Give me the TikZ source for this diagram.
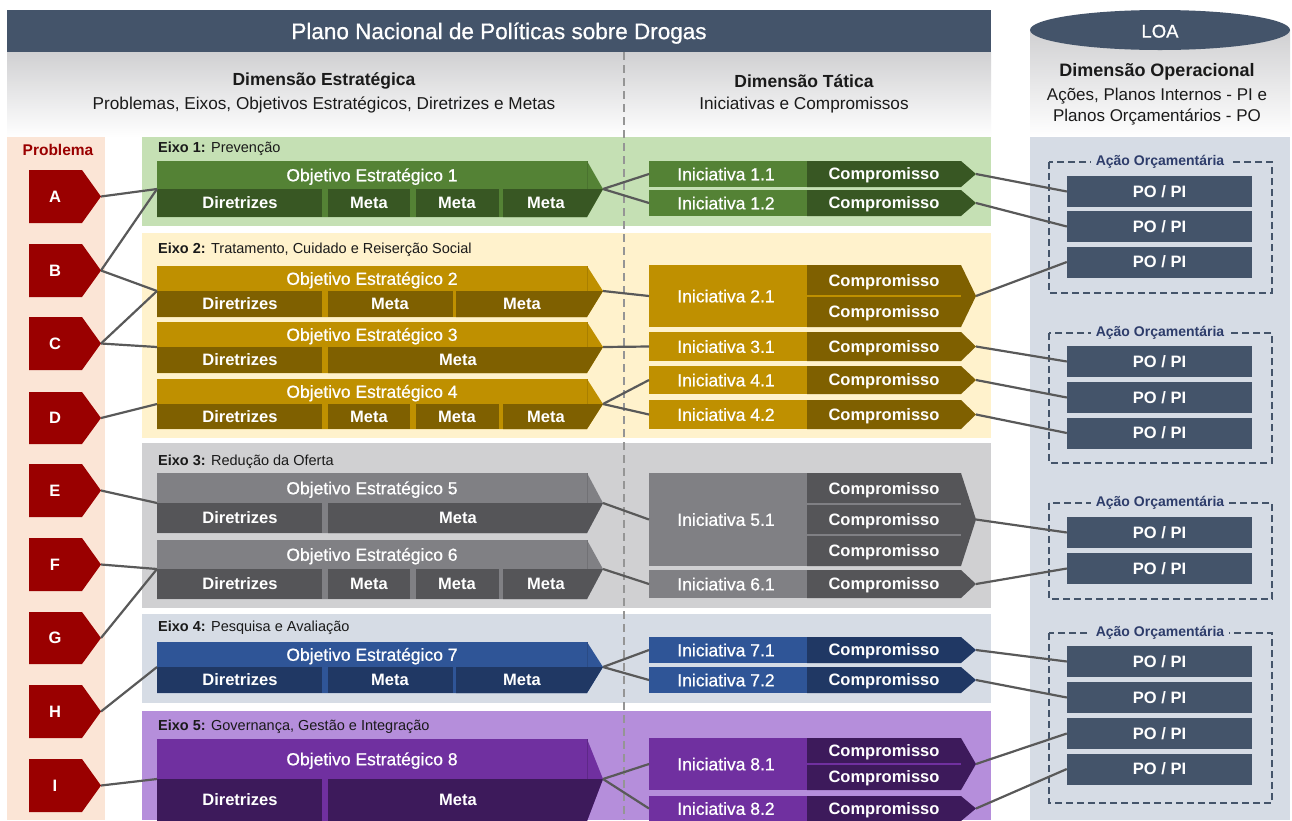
\documentclass[tikz,border=0pt]{standalone}
\usepackage{fontspec}
\setmainfont{Liberation Sans}
\newfontfamily\medfont{Liberation Sans}[FakeBold=0.7]
\usetikzlibrary{calc}
\definecolor{hdr}{HTML}{44546A}
\definecolor{poc}{HTML}{44546A}
\definecolor{loabg}{HTML}{D6DCE5}
\definecolor{probbg}{HTML}{FBE5D6}
\definecolor{probred}{HTML}{9A0000}
\definecolor{connc}{HTML}{595959}
\definecolor{txtc}{HTML}{1A1A1A}
\definecolor{acaoc}{HTML}{2E3D6B}
\definecolor{dashc}{HTML}{959595}
\definecolor{bandtop}{HTML}{D0D0D2}
\definecolor{e1bg}{HTML}{C5E0B4}
\definecolor{e2bg}{HTML}{FFF2CC}
\definecolor{e3bg}{HTML}{D0D0D2}
\definecolor{e4bg}{HTML}{D6DCE5}
\definecolor{e5bg}{HTML}{B58EDB}
\definecolor{gL}{HTML}{548235}
\definecolor{gD}{HTML}{385723}
\definecolor{yL}{HTML}{BF9000}
\definecolor{yD}{HTML}{7F6000}
\definecolor{aL}{HTML}{808084}
\definecolor{aD}{HTML}{555558}
\definecolor{bL}{HTML}{2F5597}
\definecolor{bD}{HTML}{203864}
\definecolor{pL}{HTML}{7030A0}
\definecolor{pD}{HTML}{3D1A5B}
\newcommand\fsz[1]{\fontsize{#1}{#1}\selectfont}
\tikzset{
  conn/.style={draw=connc, line width=2.2pt},
  capc/.style={text height=0.72*#1 pt, text depth=0pt},
  objtxt/.style={text=white, font=\fsz{17.5}\medfont, inner sep=0, capc=17.5},
  celltxt/.style={text=white, font=\fsz{16.5}\bfseries, inner sep=0, capc=16.5},
  initxt/.style={text=white, font=\fsz{17.5}\medfont, inner sep=0, capc=17.5},
  comptxt/.style={text=white, font=\fsz{16.5}\bfseries, inner sep=0, capc=16.5},
  pobox/.style={fill=poc, text=white, font=\fsz{16.5}\bfseries, minimum width=185pt, minimum height=31pt, inner sep=0, capc=16.5},
  probtxt/.style={text=white, font=\fsz{16.5}\bfseries, inner sep=0, capc=16.5},
  eixotxt/.style={anchor=west, font=\fsz{14.5}, text=txtc, inner sep=0},
  acaobox/.style={draw=poc, line width=2.4pt, dash pattern=on 7pt off 4pt},
  acaolbl/.style={fill=loabg, text=acaoc, font=\fsz{14}\bfseries, inner xsep=5pt, inner ysep=1pt},
  headtxt/.style={text=txtc, font=\fsz{17.5}\bfseries, inner sep=0},
  subtxt/.style={text=txtc, font=\fsz{17.2}, inner sep=0},
}
% problem box: name, top, bottom
\newcommand\probbox[3]{%
  \fill[probred] (29,#2) -- (82,#2) -- (101,{(#2+#3)/2}) -- (82,#3) -- (29,#3) -- cycle;
  \node[probtxt] (#1) at (55,{(#2+#3)/2}) {#1};
  \coordinate (#1tip) at (101,{(#2+#3)/2});
}
% objective: name, top, mid, bot, light, dark, title, number of metas
\newcommand\objbox[8]{%
  \fill[#5] (157,#2) -- (587,#2) -- (603,#3) -- (587,#4) -- (157,#4) -- cycle;
  \draw[#6!35!#5, line width=0.8pt] (587,#2) -- (587,#3);
  \node[objtxt] (#1) at (372,{(#2+#3)/2}) {#7};
  \fill[#6] (157,#3) rectangle (322,#4);
  \node[celltxt] at (240,{(#3+#4)/2}) {Diretrizes};
  \ifcase #8 \or
    \fill[#6] (328,#3) -- (603,#3) -- (587,#4) -- (328,#4) -- cycle;
    \node[celltxt] at (458,{(#3+#4)/2}) {Meta};
  \or
    \fill[#6] (328,#3) rectangle (453,#4);
    \fill[#6] (456,#3) -- (603,#3) -- (587,#4) -- (456,#4) -- cycle;
    \node[celltxt] at (390,{(#3+#4)/2}) {Meta};
    \node[celltxt] at (522,{(#3+#4)/2}) {Meta};
  \or
    \fill[#6] (328,#3) rectangle (410,#4);
    \fill[#6] (416,#3) rectangle (499,#4);
    \fill[#6] (503,#3) -- (603,#3) -- (587,#4) -- (503,#4) -- cycle;
    \node[celltxt] at (369,{(#3+#4)/2}) {Meta};
    \node[celltxt] at (457,{(#3+#4)/2}) {Meta};
    \node[celltxt] at (546,{(#3+#4)/2}) {Meta};
  \fi
  \coordinate (#1L) at (157,#3);
  \coordinate (#1R) at (603,#3);
}
% initiative: name, top, bot, light, dark, label, rows
\newcommand\inibox[7]{%
  \fill[#4] (649,#2) rectangle (807,#3);
  \node[initxt] (#1) at (726,{(#2+#3)/2}) {#6};
  \fill[#5] (807,#2) -- (961,#2) -- (976,{(#2+#3)/2}) -- (961,#3) -- (807,#3) -- cycle;
  \ifnum #7>1
    \foreach \k in {2,...,#7}{%
      \pgfmathsetmacro\ys{#2+(\k-1)*(#3-#2)/#7}
      \draw[#4, line width=2.5pt] (807,\ys) -- (961,\ys);
    }
  \fi
  \foreach \k in {1,...,#7}{%
    \pgfmathsetmacro\yc{#2+(\k-0.5)*(#3-#2)/#7}
    \node[comptxt] at (884,\yc) {Compromisso};
  }
  \coordinate (#1L) at (649,{(#2+#3)/2});
  \coordinate (#1R) at (976,{(#2+#3)/2});
}
% acao box: name, top, bottom
\newcommand\acaobox[3]{%
  \draw[acaobox] (1049,#2) rectangle (1272,#3);
  \node[acaolbl] (#1) at (1160,#2) {Ação Orçamentária};
}
\begin{document}
\begin{tikzpicture}[x=1pt,y=-1pt]
\useasboundingbox (0,0) rectangle (1292,820);
\clip (0,0) rectangle (1292,820);
\fill[white] (0,0) rectangle (1292,820);
% header
\fill[hdr] (7,10) rectangle (991,52);
\node[text=white, font=\fsz{22.5}\medfont, inner sep=0, capc=22.5] (title) at (499,31) {Plano Nacional de Políticas sobre Drogas};
\shade[top color=bandtop, bottom color=white] (7,52) rectangle (991,137);
\node[headtxt] (dimE) at (324,81) {Dimensão Estratégica};
\node[subtxt] (subE) at (324,105) {Problemas, Eixos, Objetivos Estratégicos, Diretrizes e Metas};
\node[headtxt] (dimT) at (804,81) {Dimensão Tática};
\node[subtxt] (subT) at (804,105) {Iniciativas e Compromissos};
% LOA cylinder
\shade[top color=bandtop, bottom color=white] (1030,30) rectangle (1290,137);
\fill[loabg] (1030,137) rectangle (1290,820);
\fill[hdr] (1160,30) ellipse [x radius=130, y radius=20];
\node[text=white, font=\fsz{18.5}\medfont, inner sep=0, capc=18.5] (loa) at (1160,31) {LOA};
\node[text=txtc, font=\fsz{18}\bfseries, inner sep=0] (dimO) at (1157,72) {Dimensão Operacional};
\node[text=txtc, font=\fsz{17}, inner sep=0] (subO1) at (1157,96) {Ações, Planos Internos - PI e};
\node[text=txtc, font=\fsz{17}, inner sep=0] (subO2) at (1157,117) {Planos Orçamentários - PO};
% problem column
\fill[probbg] (7,137) rectangle (105,820);
\node[text=probred, font=\fsz{15.5}\bfseries, inner sep=0] (probl) at (58,150) {Problema};
% eixo backgrounds
\fill[e1bg] (142,137) rectangle (991,226);
\fill[e2bg] (142,233) rectangle (991,438);
\fill[e3bg] (142,443) rectangle (991,608);
\fill[e4bg] (142,614) rectangle (991,703);
\fill[e5bg] (142,711) rectangle (991,820);
\node[eixotxt] (ex1) at (158,149) {\textbf{Eixo 1:} Prevenção};
\node[eixotxt] (ex2) at (158,250) {\textbf{Eixo 2:} Tratamento, Cuidado e Reiserção Social};
\node[eixotxt] (ex3) at (158,462) {\textbf{Eixo 3:} Redução da Oferta};
\node[eixotxt] (ex4) at (158,628) {\textbf{Eixo 4:} Pesquisa e Avaliação};
\node[eixotxt] (ex5) at (158,727) {\textbf{Eixo 5:} Governança, Gestão e Integração};
% dashed divider
\draw[dashc, line width=1.8pt, dash pattern=on 8pt off 5pt] (624,52) -- (624,820);
% problems
\probbox{A}{170}{223}
\probbox{B}{244}{297}
\probbox{C}{317}{370}
\probbox{D}{392}{444}
\probbox{E}{464}{517}
\probbox{F}{538}{591}
\probbox{G}{612}{664}
\probbox{H}{685}{738}
\probbox{I}{759}{812}
% objectives
\objbox{O1}{161}{189}{217}{gL}{gD}{Objetivo Estratégico 1}{3}
\objbox{O2}{266}{291}{317}{yL}{yD}{Objetivo Estratégico 2}{2}
\objbox{O3}{322}{347}{373}{yL}{yD}{Objetivo Estratégico 3}{1}
\objbox{O4}{379}{404}{429}{yL}{yD}{Objetivo Estratégico 4}{3}
\objbox{O5}{473}{503}{533}{aL}{aD}{Objetivo Estratégico 5}{1}
\objbox{O6}{540}{569}{599}{aL}{aD}{Objetivo Estratégico 6}{3}
\objbox{O7}{642}{667}{693}{bL}{bD}{Objetivo Estratégico 7}{2}
\objbox{O8}{739}{779}{821}{pL}{pD}{Objetivo Estratégico 8}{1}
% initiatives
\inibox{I11}{161}{187}{gL}{gD}{Iniciativa 1.1}{1}
\inibox{I12}{190}{216}{gL}{gD}{Iniciativa 1.2}{1}
\inibox{I21}{265}{327}{yL}{yD}{Iniciativa 2.1}{2}
\inibox{I31}{332}{361}{yL}{yD}{Iniciativa 3.1}{1}
\inibox{I41}{366}{394}{yL}{yD}{Iniciativa 4.1}{1}
\inibox{I42}{400}{429}{yL}{yD}{Iniciativa 4.2}{1}
\inibox{I51}{473}{566}{aL}{aD}{Iniciativa 5.1}{3}
\inibox{I61}{570}{598}{aL}{aD}{Iniciativa 6.1}{1}
\inibox{I71}{637}{663}{bL}{bD}{Iniciativa 7.1}{1}
\inibox{I72}{667}{693}{bL}{bD}{Iniciativa 7.2}{1}
\inibox{I81}{738}{790}{pL}{pD}{Iniciativa 8.1}{2}
\inibox{I82}{796}{821}{pL}{pD}{Iniciativa 8.2}{1}
% acao boxes
\acaobox{AC1}{162}{293}
\acaobox{AC2}{333}{463}
\acaobox{AC3}{503}{599}
\acaobox{AC4}{633}{803}
% PO / PI
\node[pobox] (p1) at (1159.5,191.5) {PO / PI};
\node[pobox] (p2) at (1159.5,226.5) {PO / PI};
\node[pobox] (p3) at (1159.5,262) {PO / PI};
\node[pobox] (p4) at (1159.5,361.5) {PO / PI};
\node[pobox] (p5) at (1159.5,397.5) {PO / PI};
\node[pobox] (p6) at (1159.5,433) {PO / PI};
\node[pobox] (p7) at (1159.5,532.5) {PO / PI};
\node[pobox] (p8) at (1159.5,568.5) {PO / PI};
\node[pobox] (p9) at (1159.5,661.5) {PO / PI};
\node[pobox] (p10) at (1159.5,697.5) {PO / PI};
\node[pobox] (p11) at (1159.5,733.5) {PO / PI};
\node[pobox] (p12) at (1159.5,769) {PO / PI};
% connectors: problems -> objectives
\draw[conn] (Atip) -- (O1L);
\draw[conn] (Btip) -- (O1L);
\draw[conn] (Btip) -- (O2L);
\draw[conn] (Ctip) -- (O2L);
\draw[conn] (Ctip) -- (O3L);
\draw[conn] (Dtip) -- (O4L);
\draw[conn] (Etip) -- (O5L);
\draw[conn] (Ftip) -- (O6L);
\draw[conn] (Gtip) -- (O6L);
\draw[conn] (Htip) -- (O7L);
\draw[conn] (Itip) -- (O8L);
% objectives -> initiatives
\draw[conn] (O1R) -- (I11L);
\draw[conn] (O1R) -- (I12L);
\draw[conn] (O2R) -- (I21L);
\draw[conn] (O3R) -- (I31L);
\draw[conn] (O4R) -- (I41L);
\draw[conn] (O4R) -- (I42L);
\draw[conn] (O5R) -- (I51L);
\draw[conn] (O6R) -- (I61L);
\draw[conn] (O7R) -- (I71L);
\draw[conn] (O7R) -- (I72L);
\draw[conn] (O8R) -- (I81L);
\draw[conn] (O8R) -- (I82L);
% initiatives -> PO/PI
\draw[conn] (I11R) -- (p1.west);
\draw[conn] (I12R) -- (p2.west);
\draw[conn] (I21R) -- (p3.west);
\draw[conn] (I31R) -- (p4.west);
\draw[conn] (I41R) -- (p5.west);
\draw[conn] (I42R) -- (p6.west);
\draw[conn] (I51R) -- (p7.west);
\draw[conn] (I61R) -- (p8.west);
\draw[conn] (I71R) -- (p9.west);
\draw[conn] (I72R) -- (p10.west);
\draw[conn] (I81R) -- (p11.west);
\draw[conn] (I82R) -- (p12.west);
\end{tikzpicture}
\end{document}
